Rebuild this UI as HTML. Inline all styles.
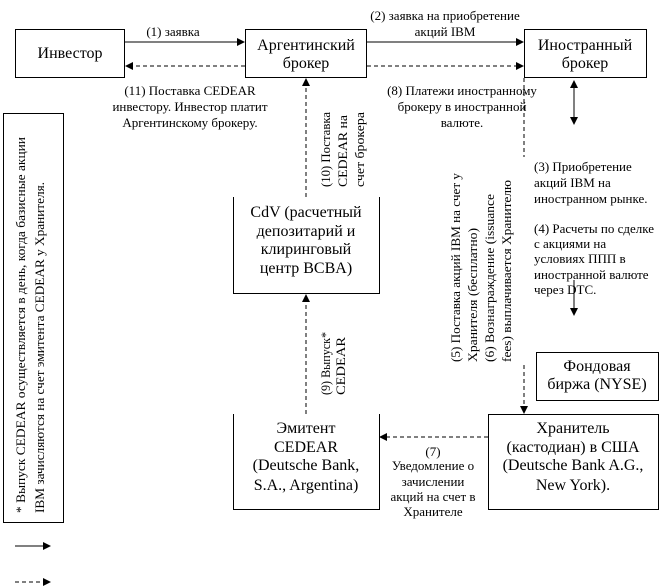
<!DOCTYPE html>
<html><head><meta charset="utf-8"><style>
body{margin:0;width:665px;height:588px;background:#fff;overflow:hidden}
svg{position:absolute;left:0;top:0;font-family:"Liberation Serif","DejaVu Serif",serif}
</style></head><body>
<svg width="665" height="588">
<defs><marker id="a" markerWidth="8" markerHeight="8" refX="7" refY="4" orient="auto" markerUnits="userSpaceOnUse"><path d="M0,0L8,4L0,8z"/></marker></defs>
<g stroke="#000" stroke-width="1" fill="none">
<rect x="15.5" y="29.5" width="109" height="48"/>
<rect x="245.5" y="29.5" width="121" height="48"/>
<rect x="524.5" y="29.5" width="122" height="48"/>
<path d="M233.5,197V293.5H379.5V197"/>
<path d="M233.5,414V509.5H379.5V414"/>
<rect x="488.5" y="414.5" width="170" height="95"/>
<rect x="536.5" y="352.5" width="122" height="48"/>
<rect x="3.5" y="113.5" width="60" height="409"/>
<line x1="125" y1="42" x2="244" y2="42" marker-end="url(#a)"/>
<line x1="245" y1="66" x2="126" y2="66" stroke-dasharray="4,3" marker-end="url(#a)"/>
<line x1="367" y1="42" x2="523" y2="42" marker-end="url(#a)"/>
<line x1="367" y1="66" x2="523" y2="66" stroke-dasharray="4,3" marker-end="url(#a)"/>
<line x1="306" y1="197" x2="306" y2="79" stroke-dasharray="4,3" marker-end="url(#a)"/>
<line x1="306" y1="414" x2="306" y2="295" stroke-dasharray="4,3" marker-end="url(#a)"/>
<line x1="524" y1="78" x2="524" y2="157" stroke-dasharray="4,3"/>
<line x1="524" y1="365" x2="524" y2="413" stroke-dasharray="4,3" marker-end="url(#a)"/>
<line x1="574" y1="120" x2="574" y2="81" marker-end="url(#a)"/>
<line x1="574" y1="84" x2="574" y2="124" marker-end="url(#a)"/>
<line x1="574" y1="280" x2="574" y2="315" marker-end="url(#a)"/>
<line x1="488" y1="437" x2="380" y2="437" stroke-dasharray="4,3" marker-end="url(#a)"/>
<line x1="15" y1="546" x2="50" y2="546" marker-end="url(#a)"/>
<line x1="15" y1="582" x2="50" y2="582" stroke-dasharray="4,3" marker-end="url(#a)"/>
</g>
<g font-size="16" text-anchor="middle">
<text x="70" y="58">Инвестор</text>
<text x="306" y="50">Аргентинский</text><text x="306" y="68">брокер</text>
<text x="585" y="50">Иностранный</text><text x="585" y="68">брокер</text>
<text x="306" y="217">CdV (расчетный</text><text x="306" y="236">депозитарий и</text><text x="306" y="254">клиринговый</text><text x="306" y="273">центр BCBA)</text>
<text x="306" y="433">Эмитент</text><text x="306" y="452">CEDEAR</text><text x="306" y="470">(Deutsche Bank,</text><text x="306" y="490">S.A., Argentina)</text>
<text x="573" y="433">Хранитель</text><text x="573" y="452">(кастодиан) в США</text><text x="573" y="470">(Deutsche Bank A.G.,</text><text x="573" y="490">New York).</text>
<text x="597" y="371">Фондовая</text><text x="597" y="389">биржа (NYSE)</text>
</g>
<g font-size="13" text-anchor="middle">
<text x="173" y="36">(1) заявка</text>
<text x="445" y="20">(2) заявка на приобретение</text><text x="445" y="36">акций IBM</text>
<text x="190" y="95">(11) Поставка CEDEAR</text><text x="190" y="111">инвестору. Инвестор платит</text><text x="190" y="127">Аргентинскому брокеру.</text>
<text x="462" y="95">(8) Платежи иностранному</text><text x="462" y="111">брокеру в иностранной</text><text x="462" y="127">валюте.</text>
<text x="433" y="456">(7)</text><text x="433" y="470">Уведомление о</text><text x="433" y="486">зачислении</text><text x="433" y="501">акций на счет в</text><text x="433" y="516">Хранителе</text>
</g>
<g font-size="13">
<text x="534" y="171">(3) Приобретение</text><text x="534" y="187">акций IBM на</text><text x="534" y="203">иностранном рынке.</text>
<text x="534" y="233">(4) Расчеты по сделке</text><text x="534" y="248">с акциями на</text><text x="534" y="263">условиях ППП в</text><text x="534" y="279">иностранной валюте</text><text x="534" y="294">через DTC.</text>
</g>
<g font-size="12.5">
<text transform="translate(330,187) rotate(-90)" textLength="75" lengthAdjust="spacingAndGlyphs">(10) Поставка</text>
<text transform="translate(347,187) rotate(-90)" textLength="72" lengthAdjust="spacingAndGlyphs">CEDEAR на</text>
<text transform="translate(364,187) rotate(-90)" textLength="75" lengthAdjust="spacingAndGlyphs">счет брокера</text>
<text transform="translate(330,395) rotate(-90)" textLength="63" lengthAdjust="spacingAndGlyphs">(9) Выпуск*</text>
<text transform="translate(345,395) rotate(-90)" textLength="58" lengthAdjust="spacingAndGlyphs">CEDEAR</text>
<text transform="translate(460,362) rotate(-90)" textLength="189" lengthAdjust="spacingAndGlyphs">(5) Поставка акций IBM на счет у</text>
<text transform="translate(477,362) rotate(-90)" textLength="134" lengthAdjust="spacingAndGlyphs">Хранителя (бесплатно)</text>
<text transform="translate(494,362) rotate(-90)" textLength="168" lengthAdjust="spacingAndGlyphs">(6) Вознаграждение (issuance</text>
<text transform="translate(511,362) rotate(-90)" textLength="182" lengthAdjust="spacingAndGlyphs">fees) выплачивается Хранителю</text>
<text transform="translate(25,513) rotate(-90)" textLength="376" lengthAdjust="spacingAndGlyphs">* Выпуск CEDEAR осуществляется в день, когда базисные акции</text>
<text transform="translate(44,513) rotate(-90)" textLength="331" lengthAdjust="spacingAndGlyphs">IBM зачисляются на счет эмитента CEDEAR у Хранителя.</text>
</g>
</svg>
</body></html>
